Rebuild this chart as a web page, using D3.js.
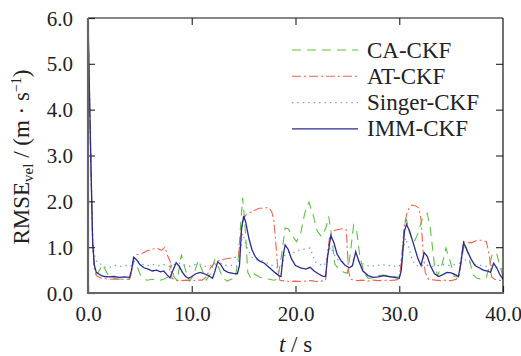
<!DOCTYPE html>
<html>
<head>
<meta charset="utf-8">
<script src="https://cdn.jsdelivr.net/npm/d3@7"></script>
<style>
  body { margin: 0; background: #fff; }
  svg text { font-family: "Liberation Serif", "Times New Roman", serif !important; fill: #222; }
</style>
</head>
<body>
<div class="chart"></div>
<script>
// RMSE of velocity vs time, [t (s), value (m/s)]
var caCKF = [
    [0, 6.0], [0.15, 4.2], [0.3, 2.6], [0.45, 1.1], [0.6, 0.6], [0.8, 0.42], [1.0, 0.45], [1.4, 0.62],
    [1.8, 0.45], [2.1, 0.35], [2.5, 0.32], [3.0, 0.3], [3.5, 0.31], [4.0, 0.3], [4.2, 0.45], [4.4, 0.72],
    [4.7, 0.6], [5.0, 0.42], [5.3, 0.32], [5.7, 0.28], [6.2, 0.3], [6.8, 0.27], [7.3, 0.3], [7.7, 0.35],
    [8.0, 0.62], [8.3, 0.35], [8.6, 0.27], [9.0, 0.84], [9.4, 0.5], [9.8, 0.26], [10.2, 0.4], [10.6, 0.7],
    [11.0, 0.5], [11.4, 0.28], [11.8, 0.42], [12.2, 0.72], [12.6, 0.55], [13.0, 0.33], [13.4, 0.26],
    [13.8, 0.3], [14.2, 0.32], [14.5, 0.8], [14.9, 2.08], [15.1, 1.6], [15.4, 0.45], [15.7, 0.32],
    [16.0, 0.42], [16.5, 0.35], [17.0, 0.32], [17.5, 0.3], [17.9, 0.28], [18.3, 0.3], [18.7, 0.9],
    [19.0, 1.42], [19.3, 1.4], [19.7, 1.25], [20.1, 1.12], [20.5, 1.3], [20.9, 1.75], [21.3, 1.98],
    [21.7, 1.7], [22.1, 1.35], [22.5, 1.23], [22.9, 1.4], [23.2, 1.67], [23.5, 1.2], [23.8, 0.62],
    [24.3, 0.5], [24.7, 0.45], [25.0, 0.43], [25.3, 0.9], [25.6, 1.48], [25.9, 1.35], [26.2, 0.8],
    [26.6, 0.45], [27.0, 0.32], [27.5, 0.33], [28.0, 0.38], [28.5, 0.39], [29.0, 0.38], [29.5, 0.36],
    [30.0, 0.35], [30.2, 0.6], [30.5, 1.5], [30.7, 1.6], [31.0, 1.3], [31.4, 1.1], [31.8, 1.3],
    [32.2, 1.6], [32.7, 1.74], [33.0, 1.4], [33.4, 0.6], [33.7, 0.38], [34.1, 0.6], [34.5, 0.98],
    [34.9, 0.7], [35.3, 0.36], [35.7, 0.35], [36.0, 0.7], [36.3, 1.1], [36.7, 0.8], [37.1, 0.4],
    [37.5, 0.32], [38.0, 0.3], [38.4, 0.34], [38.7, 0.6], [39.0, 0.88], [39.4, 0.85], [39.7, 0.6], [40.0, 0.35]
];

var atCKF = [
    [0, 6.0], [0.15, 4.2], [0.3, 2.6], [0.45, 1.1], [0.6, 0.55], [0.8, 0.38], [1.2, 0.33], [2.0, 0.3],
    [3.0, 0.3], [4.0, 0.3], [4.2, 0.45], [4.4, 0.75], [4.7, 0.84], [5.2, 0.86], [5.7, 0.92], [6.2, 0.96],
    [6.7, 0.97], [7.1, 0.93], [7.4, 1.0], [7.7, 0.8], [7.9, 0.7], [8.1, 0.32], [8.5, 0.28], [9.0, 0.27],
    [9.5, 0.28], [10.0, 0.27], [10.5, 0.28], [11.0, 0.28], [11.4, 0.35], [11.8, 0.55], [12.2, 0.65],
    [12.7, 0.72], [13.2, 0.74], [13.7, 0.76], [14.2, 0.78], [14.5, 0.8], [14.7, 1.2], [14.9, 1.55],
    [15.2, 1.7], [15.6, 1.75], [16.0, 1.8], [16.5, 1.85], [17.0, 1.85], [17.4, 1.87], [17.7, 1.78],
    [17.9, 1.6], [18.1, 1.1], [18.3, 0.5], [18.5, 0.28], [19.0, 0.26], [19.5, 0.25], [20.0, 0.26],
    [20.5, 0.25], [21.0, 0.26], [21.5, 0.27], [22.0, 0.25], [22.5, 0.26], [22.9, 0.28], [23.1, 0.9],
    [23.3, 1.25], [23.6, 1.35], [24.0, 1.38], [24.5, 1.4], [24.9, 1.38], [25.1, 0.5], [25.3, 0.3],
    [26.0, 0.27], [26.5, 0.28], [27.0, 0.26], [27.5, 0.28], [28.0, 0.27], [28.5, 0.28], [29.0, 0.27],
    [29.5, 0.28], [30.0, 0.3], [30.2, 0.7], [30.5, 1.5], [30.8, 1.8], [31.2, 1.92], [31.6, 1.9],
    [31.9, 1.85], [32.1, 1.6], [32.3, 0.9], [32.5, 0.45], [32.8, 0.3], [33.5, 0.28], [34.0, 0.27],
    [34.5, 0.28], [35.0, 0.27], [35.5, 0.3], [35.8, 0.4], [36.0, 0.8], [36.2, 1.12], [36.6, 1.1],
    [37.0, 1.1], [37.5, 1.15], [38.0, 1.15], [38.4, 1.12], [38.7, 0.8], [38.9, 0.35], [39.2, 0.3],
    [39.6, 0.28], [40.0, 0.27]
];

var singerCKF = [
    [0, 6.0], [0.15, 4.2], [0.3, 2.6], [0.45, 1.2], [0.6, 0.85], [0.8, 0.7], [1.1, 0.67], [1.4, 0.58],
    [1.8, 0.55], [2.2, 0.57], [2.6, 0.6], [3.0, 0.58], [3.5, 0.6], [4.0, 0.58], [4.2, 0.6], [4.5, 0.72],
    [4.9, 0.68], [5.3, 0.62], [5.8, 0.6], [6.3, 0.62], [6.8, 0.6], [7.3, 0.62], [7.8, 0.58], [8.3, 0.62],
    [8.8, 0.65], [9.3, 0.6], [9.8, 0.58], [10.3, 0.62], [10.8, 0.63], [11.3, 0.58], [11.8, 0.6],
    [12.3, 0.62], [12.8, 0.65], [13.3, 0.6], [13.8, 0.6], [14.3, 0.58], [14.6, 0.75], [14.9, 1.3],
    [15.1, 1.15], [15.4, 0.95], [15.8, 0.78], [16.3, 0.72], [16.8, 0.7], [17.3, 0.65], [17.8, 0.6],
    [18.3, 0.55], [18.7, 0.6], [19.0, 0.85], [19.4, 0.9], [19.8, 0.88], [20.2, 0.92], [20.6, 0.95],
    [21.0, 0.96], [21.4, 0.98], [21.7, 0.8], [22.0, 0.65], [22.4, 0.62], [22.8, 0.6], [23.1, 0.85],
    [23.4, 1.0], [23.7, 0.85], [24.1, 0.72], [24.6, 0.68], [25.1, 0.7], [25.6, 0.72], [26.1, 0.7],
    [26.6, 0.62], [27.2, 0.58], [27.8, 0.6], [28.4, 0.62], [29.0, 0.6], [29.6, 0.58], [30.0, 0.58],
    [30.3, 0.8], [30.6, 1.2], [30.9, 1.0], [31.2, 0.75], [31.6, 0.6], [32.0, 0.58], [32.4, 0.62],
    [32.8, 0.6], [33.3, 0.58], [33.8, 0.6], [34.3, 0.62], [34.8, 0.6], [35.3, 0.62], [35.8, 0.65],
    [36.1, 0.78], [36.4, 0.72], [36.9, 0.65], [37.4, 0.62], [37.9, 0.6], [38.4, 0.58], [38.9, 0.6],
    [39.4, 0.55], [40.0, 0.52]
];

var immCKF = [
    [0, 6.0], [0.15, 4.3], [0.3, 2.6], [0.45, 1.1], [0.6, 0.62], [0.8, 0.45], [1.0, 0.42], [1.3, 0.38],
    [1.6, 0.36], [2.0, 0.35], [2.5, 0.36], [3.0, 0.34], [3.5, 0.35], [4.0, 0.34], [4.2, 0.5], [4.4, 0.78],
    [4.7, 0.72], [5.0, 0.62], [5.4, 0.55], [5.8, 0.52], [6.2, 0.48], [6.6, 0.5], [7.0, 0.46], [7.3, 0.48],
    [7.6, 0.4], [7.9, 0.33], [8.2, 0.5], [8.5, 0.66], [8.8, 0.58], [9.1, 0.45], [9.4, 0.36], [9.7, 0.32],
    [10.0, 0.36], [10.4, 0.42], [10.8, 0.45], [11.2, 0.42], [11.6, 0.38], [12.0, 0.32], [12.2, 0.45],
    [12.5, 0.68], [12.8, 0.62], [13.1, 0.5], [13.5, 0.45], [14.0, 0.43], [14.4, 0.42], [14.6, 0.6],
    [14.8, 1.4], [15.0, 1.68], [15.2, 1.55], [15.5, 1.2], [15.8, 0.95], [16.1, 0.8], [16.5, 0.7],
    [17.0, 0.65], [17.5, 0.55], [18.0, 0.45], [18.4, 0.38], [18.6, 0.36], [18.8, 0.8], [19.0, 1.05],
    [19.3, 0.95], [19.6, 0.75], [20.0, 0.6], [20.5, 0.55], [21.0, 0.52], [21.4, 0.56], [21.8, 0.48],
    [22.2, 0.42], [22.6, 0.37], [22.9, 0.36], [23.1, 0.8], [23.4, 1.25], [23.7, 1.1], [24.0, 0.85],
    [24.4, 0.7], [24.8, 0.6], [25.2, 0.55], [25.5, 0.6], [25.8, 0.9], [26.1, 0.7], [26.5, 0.48],
    [27.0, 0.38], [27.5, 0.34], [28.0, 0.35], [28.5, 0.38], [29.0, 0.36], [29.5, 0.34], [30.0, 0.32],
    [30.2, 0.5], [30.5, 1.35], [30.7, 1.5], [31.0, 1.35], [31.4, 1.05], [31.8, 0.75], [32.1, 0.6],
    [32.4, 0.88], [32.7, 0.8], [33.0, 0.6], [33.4, 0.42], [33.8, 0.36], [34.2, 0.4], [34.6, 0.45],
    [35.0, 0.44], [35.4, 0.4], [35.7, 0.36], [35.9, 0.6], [36.2, 1.1], [36.5, 0.95], [36.9, 0.75],
    [37.3, 0.6], [37.7, 0.55], [38.1, 0.5], [38.5, 0.48], [38.8, 0.45], [39.1, 0.65], [39.4, 0.55],
    [39.7, 0.4], [40.0, 0.3]
];

var seriesNames = ['CA-CKF', 'AT-CKF', 'Singer-CKF', 'IMM-CKF'];
var seriesData = [caCKF, atCKF, singerCKF, immCKF];
var xTicks = [0, 10, 20, 30, 40];
var yTicks = [0, 1, 2, 3, 4, 5, 6];

var serif = '"Liberation Serif", "Times New Roman", serif';

var styles = [
    { color: '#62bf45', dash: '9,6', width: 1.1 },
    { color: '#ef6450', dash: '9,3,2,3', width: 1.1 },
    { color: '#6f9ee6', dash: '1.4,4', width: 1.3 },
    { color: '#2c2a8e', dash: null, width: 1.3 }
];

var fullWidth = 521;
var fullHeight = 356;
var margin = { top: 18, right: 18, bottom: 63, left: 88 };
var width = fullWidth - margin.left - margin.right;
var height = fullHeight - margin.top - margin.bottom;

var svg = d3.select('.chart')
            .append('svg')
            .attr('width', fullWidth)
            .attr('height', fullHeight)
            .attr('font-family', serif);

var g = svg.append('g')
           .attr('transform', 'translate(' + margin.left + ',' + margin.top + ')');

var x = d3.scaleLinear().domain([0, 40]).range([0, width]);
var y = d3.scaleLinear().domain([0, 6]).range([height, 0]);

g.append('clipPath').attr('id', 'clip')
 .append('rect').attr('width', width).attr('height', height);

var line = d3.line()
             .x(function (d) { return x(d[0]); })
             .y(function (d) { return y(d[1]); });

seriesData.forEach(function (data, i) {
    g.append('path')
     .datum(data)
     .attr('clip-path', 'url(#clip)')
     .attr('fill', 'none')
     .attr('stroke', styles[i].color)
     .attr('stroke-width', styles[i].width)
     .attr('stroke-dasharray', styles[i].dash)
     .attr('d', line);
});

// axes, ticks inward
var tickLen = 7;
var fmt = d3.format('.1f');

var xAxis = d3.axisBottom(x).tickValues(xTicks).tickFormat(fmt).tickSize(-tickLen).tickPadding(tickLen + 6);
var yAxis = d3.axisLeft(y).tickValues(yTicks).tickFormat(fmt).tickSize(-tickLen).tickPadding(tickLen + 8);

var gx = g.append('g').attr('transform', 'translate(0,' + height + ')').call(xAxis);
var gy = g.append('g').call(yAxis);

g.append('g').call(d3.axisTop(x).tickValues([10, 20, 30]).tickSize(-tickLen).tickFormat(''));
g.append('g').attr('transform', 'translate(' + width + ',0)')
 .call(d3.axisRight(y).tickValues(yTicks.slice(1, 6)).tickSize(-tickLen).tickFormat(''));

g.selectAll('.domain').remove();
g.selectAll('.tick line').attr('stroke', '#333').attr('stroke-width', 1.2);
g.selectAll('g').attr('font-family', serif);
gx.selectAll('text').attr('font-size', 21).attr('fill', '#222').attr('font-family', serif);
gy.selectAll('text').attr('font-size', 21).attr('fill', '#222').attr('font-family', serif).attr('dy', '0.34em');

// frame
g.append('line').attr('x1', 0).attr('x2', width).attr('y1', 0).attr('y2', 0)
 .attr('stroke', '#111').attr('stroke-width', 1.2);
g.append('line').attr('x1', width).attr('x2', width).attr('y1', 0).attr('y2', height)
 .attr('stroke', '#111').attr('stroke-width', 1.2);
g.append('line').attr('x1', 0).attr('x2', 0).attr('y1', 0).attr('y2', height + 1)
 .attr('stroke', '#666').attr('stroke-width', 2.2);
g.append('line').attr('x1', -1).attr('x2', width + 1).attr('y1', height).attr('y2', height)
 .attr('stroke', '#666').attr('stroke-width', 2.2);

// legend
var legend = g.append('g').attr('transform', 'translate(204,32)');
seriesNames.forEach(function (name, i) {
    var row = legend.append('g').attr('transform', 'translate(0,' + (i * 26.3) + ')');
    row.append('line')
       .attr('x1', 0).attr('x2', 66).attr('y1', 0).attr('y2', 0)
       .attr('stroke', styles[i].color)
       .attr('stroke-width', styles[i].width)
       .attr('stroke-dasharray', styles[i].dash);
    row.append('text')
       .attr('x', 75).attr('y', 7.5)
       .attr('font-size', 23)
       .attr('font-family', serif)
       .text(name);
});

// axis titles
var xTitle = svg.append('text')
                .attr('x', margin.left + width / 2)
                .attr('y', 352)
                .attr('text-anchor', 'middle')
                .attr('font-family', serif)
                .attr('font-size', 23);
xTitle.append('tspan').attr('font-style', 'italic').text('t');
xTitle.append('tspan').text(' / s');

var yTitle = svg.append('text')
                .attr('transform', 'translate(29,157) rotate(-90)')
                .attr('text-anchor', 'middle')
                .attr('font-family', serif)
                .attr('font-size', 23);
yTitle.append('tspan').text('RMSE');
yTitle.append('tspan').attr('font-size', 15).attr('dy', 4).text('vel');
yTitle.append('tspan').attr('dy', -4).text(' / (m · s');
yTitle.append('tspan').attr('font-size', 14).attr('dy', -8).text('−1');
yTitle.append('tspan').attr('dy', 8).text(')');
</script>
</body>
</html>
